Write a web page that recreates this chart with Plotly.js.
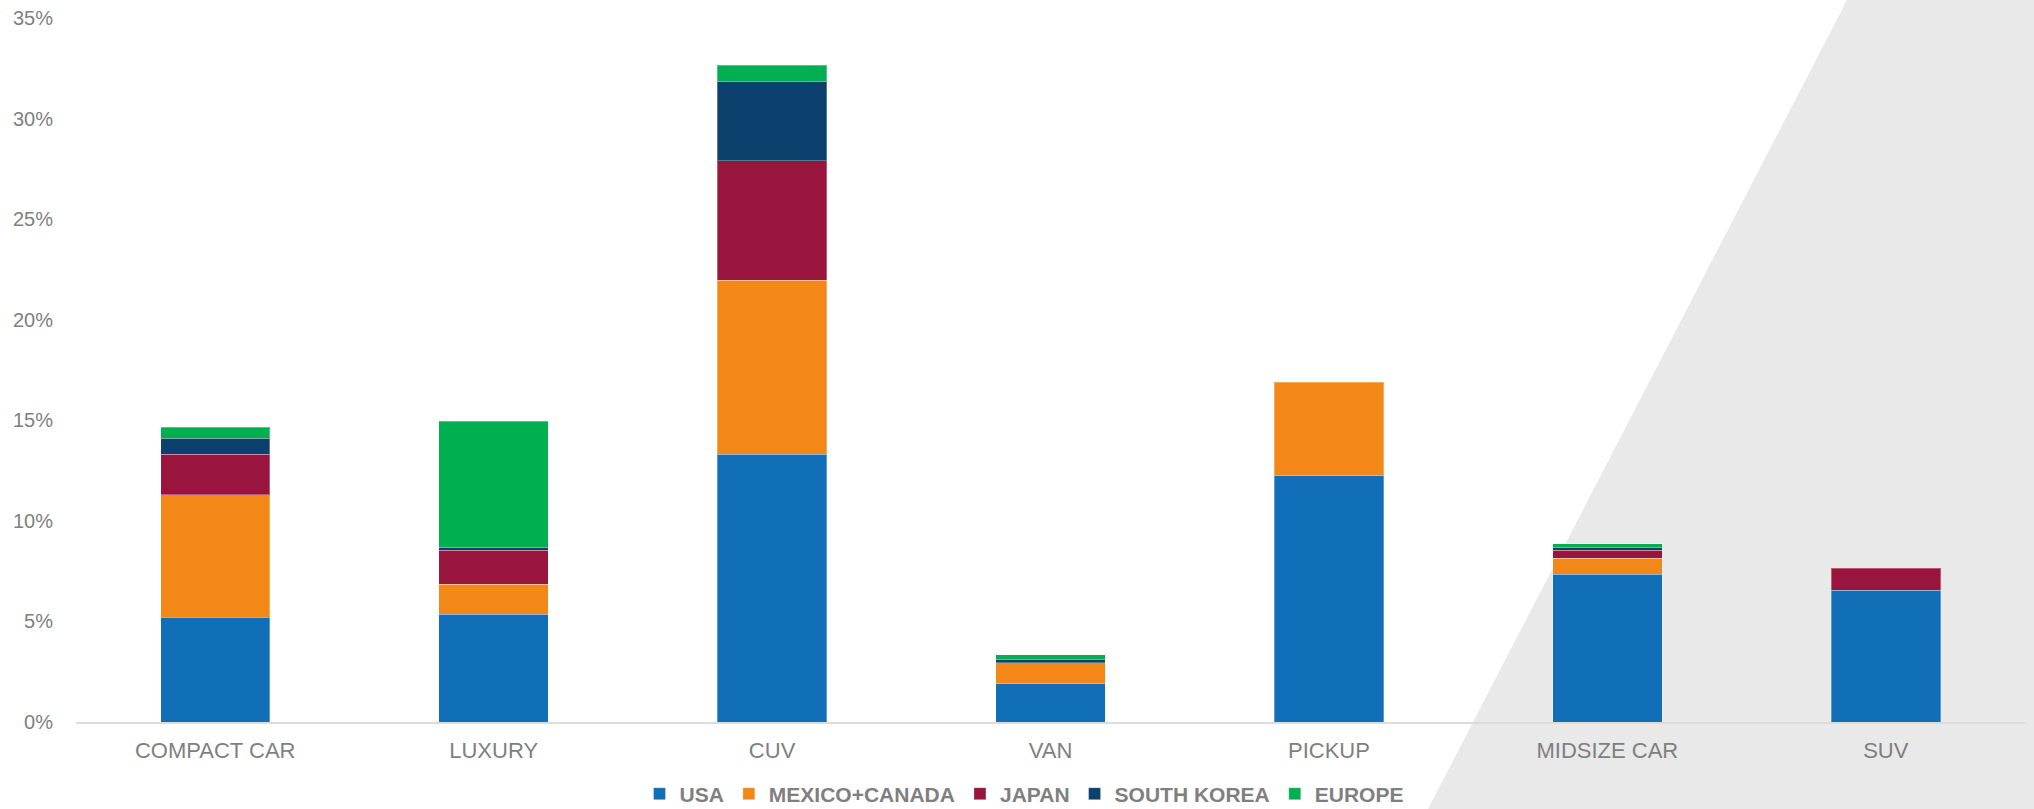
<!DOCTYPE html>
<html>
<head>
<meta charset="utf-8">
<script src="https://cdn.plot.ly/plotly-3.0.1.min.js"></script>
<style>
html, body { margin: 0; padding: 0; background: #ffffff; }
#chart { width: 2034px; height: 809px; }
</style>
</head>
<body>
<div id="chart"></div>
<script>
// Categories (x axis tick labels)
const categories = ["COMPACT CAR", "LUXURY", "CUV", "VAN", "PICKUP", "MIDSIZE CAR", "SUV"];

// Series values (% share)
const usa          = [5.2, 5.35, 13.3, 1.9, 12.25, 7.35, 6.55];
const mexicoCanada = [6.1, 1.5, 8.65, 1.05, 4.65, 0.8, null];
const japan        = [2.0, 1.7, 5.95, null, null, 0.4, 1.1];
const southKorea   = [0.8, 0.15, 3.95, 0.15, null, 0.15, null];
const europe       = [0.55, 6.25, 0.8, 0.25, null, 0.15, null];

// Y tick values and labels
const yTicks = [0, 5, 10, 15, 20, 25, 30, 35];
const yTickLabels = ["0%", "5%", "10%", "15%", "20%", "25%", "30%", "35%"];

const seriesNames  = ["USA", "MEXICO+CANADA", "JAPAN", "SOUTH KOREA", "EUROPE"];
const seriesValues = [usa, mexicoCanada, japan, southKorea, europe];
const seriesColors = ["#116fb8", "#f38818", "#99153e", "#0c416e", "#00b050"];

const traces = seriesNames.map((name, i) => ({
  type: "bar",
  name: name,
  x: categories,
  y: seriesValues[i],
  marker: {
    color: seriesColors[i],
    line: { color: "rgba(255,255,255,0.3)", width: 1 }
  },
  hoverinfo: "x+y+name"
}));

// plot-area pixel geometry helpers for the decorative background shape
const L = 76, R = 9, T = 18, B = 87;
const W = 2034 - L - R, H = 809 - T - B;
const px = (x) => (x - L) / W;
const py = (y) => (809 - B - y) / H;

const layout = {
  width: 2034,
  height: 809,
  margin: { l: L, r: R, t: T, b: B, pad: 0, autoexpand: false },
  paper_bgcolor: "#ffffff",
  plot_bgcolor: "rgba(0,0,0,0)",
  barmode: "stack",
  bargap: 0.607,
  font: { family: "Liberation Sans, Arial, sans-serif", color: "#7f7f7f" },
  xaxis: {
    type: "category",
    showline: true,
    linecolor: "#dcdcdc",
    linewidth: 2,
    showgrid: false,
    zeroline: false,
    ticks: "",
    tickfont: { size: 22, color: "#7f7f7f" },
    ticklabelstandoff: 8
  },
  yaxis: {
    range: [0, 35],
    tickmode: "array",
    tickvals: yTicks,
    ticktext: yTickLabels,
    showgrid: false,
    zeroline: false,
    showline: false,
    ticks: "",
    tickfont: { size: 20, color: "#7f7f7f" },
    ticklabelstandoff: 22
  },
  showlegend: true,
  legend: {
    orientation: "h",
    x: px(1024),
    xanchor: "center",
    y: py(794),
    yanchor: "middle",
    font: { size: 21, color: "#7f7f7f", family: "Liberation Sans, Arial, sans-serif", weight: "bold" },
    bgcolor: "rgba(0,0,0,0)",
    traceorder: "normal",
    itemclick: false
  },
  shapes: [{
    type: "path",
    xref: "paper",
    yref: "paper",
    layer: "below",
    path: `M ${px(1847)} ${py(0)} L ${px(2034)} ${py(0)} L ${px(2034)} ${py(809)} L ${px(1428)} ${py(809)} Z`,
    fillcolor: "#e9e9e9",
    line: { width: 0 }
  }]
};

Plotly.newPlot("chart", traces, layout, { displayModeBar: false, staticPlot: true });
</script>
</body>
</html>
